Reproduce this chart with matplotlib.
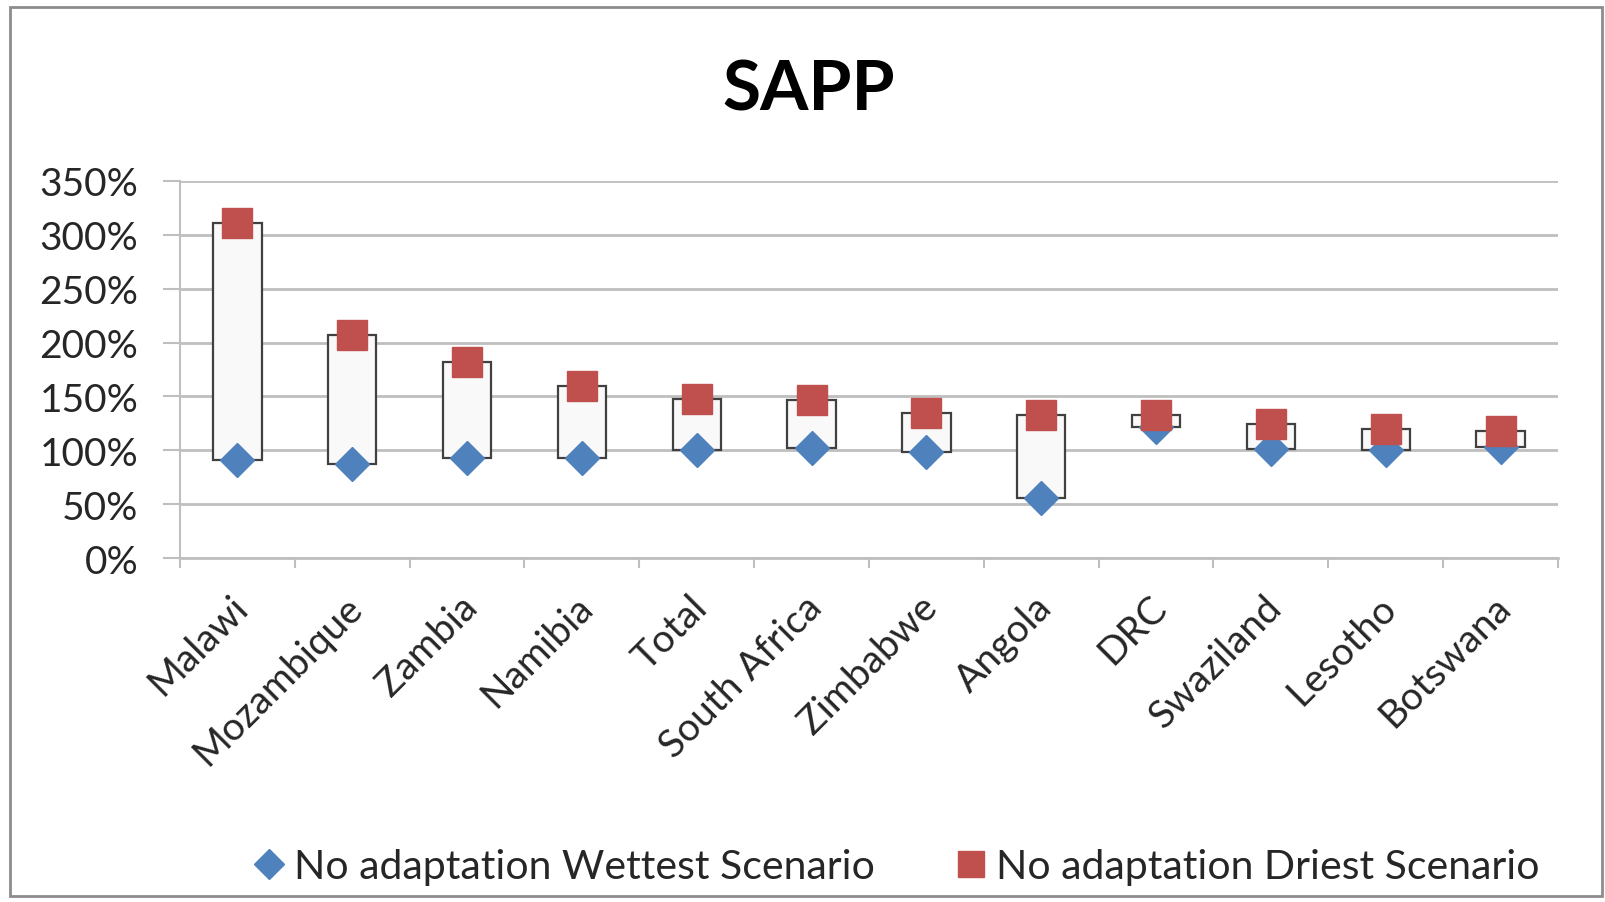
import matplotlib
matplotlib.use("Agg")
import matplotlib.pyplot as plt
import matplotlib.transforms as mtransforms
import numpy as np
from matplotlib.patches import Rectangle
from matplotlib.ticker import FuncFormatter

categories = ["Malawi", "Mozambique", "Zambia", "Namibia", "Total", "South Africa",
              "Zimbabwe", "Angola", "DRC", "Swaziland", "Lesotho", "Botswana"]
wettest = [91, 87, 93, 93, 100, 102, 98, 56, 122, 101, 100, 103]
driest = [311, 207, 182, 160, 148, 147, 135, 133, 133, 124, 120, 118]
yticks = [0, 50, 100, 150, 200, 250, 300, 350]
series_names = ["No adaptation Wettest Scenario", "No adaptation Driest Scenario"]
title = "SAPP"

plt.rcParams['font.family'] = ['Lato', 'DejaVu Sans']

W, H = 1606, 903
fig = plt.figure(figsize=(W / 100, H / 100), dpi=100)
fig.patch.set_facecolor("white")
fig.add_artist(Rectangle((10 / W, 1 - 897 / H), (1602 - 10) / W, (897 - 8) / H,
                         transform=fig.transFigure, fill=False, edgecolor="#8c8c8c",
                         linewidth=2.0))

ax = fig.add_axes([180 / W, 1 - 559 / H, (1558 - 180) / W, (559 - 182) / H])
x = np.arange(len(categories))
wet = np.array(wettest, dtype=float)
dry = np.array(driest, dtype=float)

grid_c = "#bfbfbf"
for t in yticks:
    ax.axhline(t, color=grid_c, linewidth=2.0, zorder=0)

ax.bar(x, dry - wet, bottom=wet, width=0.42, facecolor="#f9f9f9",
       edgecolor="#404040", linewidth=1.6, zorder=2)
ax.plot(x, wet, linestyle="none", marker="D", markersize=17, color="#4f81bd",
        markeredgecolor="#4f81bd", label=series_names[0], zorder=3)
ax.plot(x, dry, linestyle="none", marker="s", markersize=21, color="#c0504d",
        markeredgecolor="#c0504d", label=series_names[1], zorder=4)

ax.set_xlim(-0.5, len(categories) - 0.5)
ax.set_ylim(0, 350)
ax.set_yticks(yticks)
ax.yaxis.set_major_formatter(FuncFormatter(lambda v, p: f"{int(v)}%"))
ax.tick_params(axis="y", length=12, width=1.5, color=grid_c, pad=18,
               labelsize=28, labelcolor="#262626")

# category labels drawn as text so they can be nudged like Excel's
ax.set_xticks(x)
ax.set_xticklabels([])
ax.tick_params(axis="x", which="major", length=0)
offset = mtransforms.ScaledTranslation(-8 / 100, -22 / 72, fig.dpi_scale_trans)
for xi, name in zip(x, categories):
    ax.text(xi, 0, name, transform=ax.get_xaxis_transform() + offset,
            rotation=45, ha="right", va="top", rotation_mode="anchor",
            fontsize=28, color="#262626", clip_on=False)
ax.set_xticks(np.arange(-0.5, len(categories)), minor=True)
ax.tick_params(axis="x", which="minor", length=7, width=1.5, color=grid_c)

for s in ["top", "right"]:
    ax.spines[s].set_visible(False)
ax.spines["left"].set_color(grid_c)
ax.spines["left"].set_linewidth(1.5)
ax.spines["bottom"].set_color(grid_c)
ax.spines["bottom"].set_linewidth(2.0)
ax.set_facecolor("none")

fig.text(809 / W, 1 - 91 / H, title, ha="center", va="center", fontsize=50,
         fontweight="bold", color="black")

fig.legend(loc="center", bbox_to_anchor=(896 / W, 1 - 868 / H), ncol=2,
           frameon=False, fontsize=29.5, handletextpad=0.2, columnspacing=1.95,
           markerscale=0.9, handlelength=0.8, labelcolor="#262626")

fig.savefig("out.png", dpi=100)
